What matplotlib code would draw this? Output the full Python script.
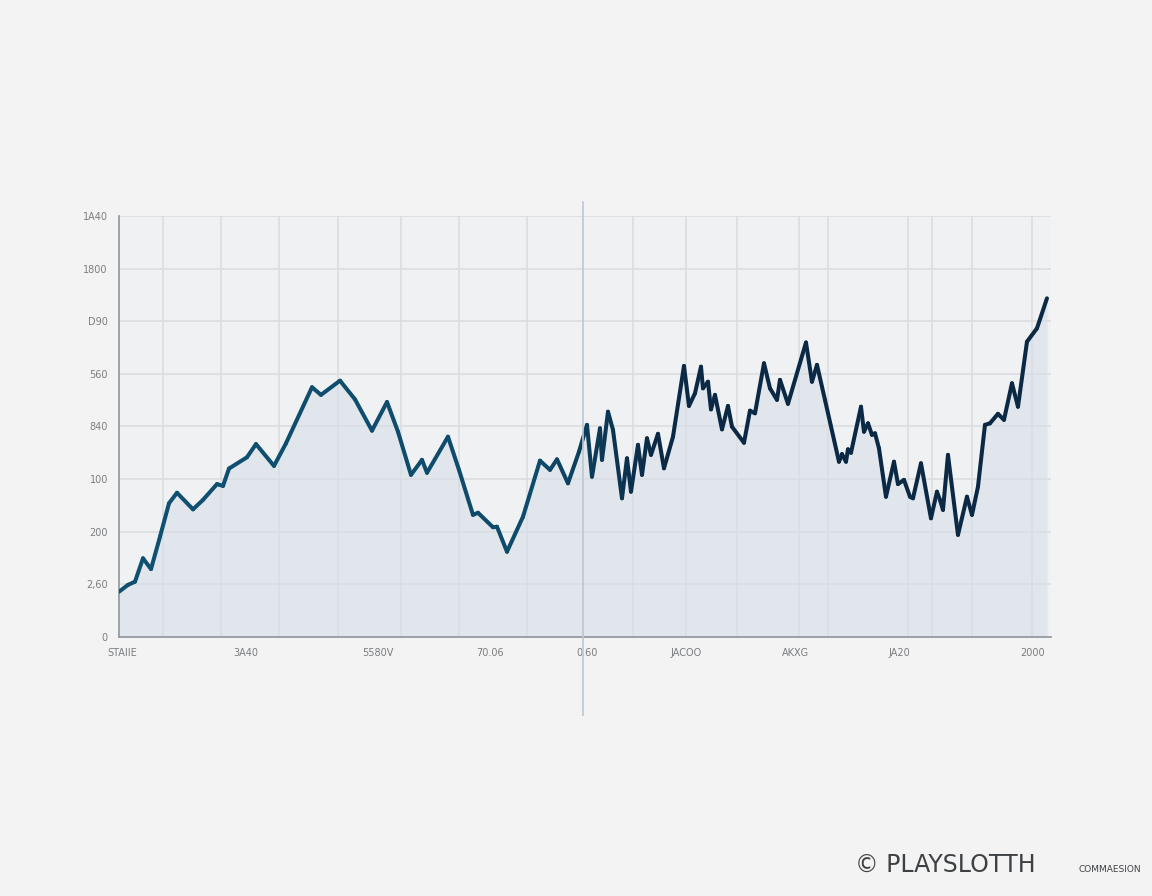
import numpy as np
import matplotlib.pyplot as plt
from matplotlib.collections import LineCollection
from matplotlib.colors import to_rgb

# values (x in days along the axis, y in units)
x_vals = [0, 9, 16, 24, 32, 41, 50, 58, 74, 84, 98, 104, 110, 128, 137, 155, 167,
          193, 202, 221, 236, 253, 268, 279, 292, 303, 308, 329, 340, 354, 359,
          374, 378, 388, 404, 421, 431, 438, 449, 460,
          468, 473, 481, 483, 489, 494, 503, 508, 512, 519, 523, 528, 532, 539,
          545, 554, 565, 570, 576, 582, 584, 589, 592, 596, 603, 609, 613, 625,
          631, 636, 645, 651, 658, 661, 669, 687, 693, 698, 706,
          720, 723, 727, 729, 732, 742, 745, 749, 753, 756, 760, 767, 775, 779,
          785, 791, 794, 802, 812, 818, 821, 824, 829, 839, 848, 853, 859, 866,
          871, 879, 885, 893, 899, 908, 918, 928]
y_vals = [172, 198, 210, 299, 258, 381, 508, 548, 485, 521, 581, 574, 640, 683, 733, 650, 736,
          949, 920, 974, 903, 784, 893, 780, 616, 673, 624, 761, 635, 464, 472,
          417, 419, 324, 457, 670, 635, 675, 584, 704,
          806, 609, 793, 673, 856, 787, 527, 679, 552, 730, 616, 755, 692, 772,
          641, 761, 1030, 878, 926, 1027, 945, 970, 865, 920, 789, 878, 799, 738,
          860, 850, 1040, 945, 901, 977, 886, 1119, 970, 1034, 901,
          666, 695, 666, 713, 700, 875, 780, 812, 768, 774, 717, 533, 666, 581,
          597, 533, 527, 660, 451, 552, 521, 483, 692, 388, 533, 464, 571, 806,
          812, 848, 825, 964, 875, 1122, 1173, 1287]

y_ticks = [0, 200, 400, 600, 800, 1000, 1200, 1400, 1600]
y_labels = ["0", "2,60", "200", "100", "840", "560", "D90", "1800", "1A40"]
x_ticks = [3, 127, 259, 371, 468, 567, 677, 780, 914]
x_labels = ["STAIIE", "3A40", "5580V", "70.06", "0.60", "JACOO", "AKXG", "JA20", "2000"]
v_grid = [44, 102, 160, 219, 282, 340, 408, 514, 567, 618, 680, 709, 789, 813, 853, 913]
divider = 464

fig = plt.figure(figsize=(11.52, 8.96), dpi=100)
fig.patch.set_facecolor('#f3f3f3')
ax = fig.add_axes([0.1033, 0.2891, 0.809, 0.4699])
ax.set_facecolor('#f0f1f2')
ax.set_xlim(0, 932)
ax.set_ylim(0, 1600)

# grid
for yv in y_ticks[1:]:
    ax.axhline(yv, color='#dadcdf', lw=1.1, zorder=1)
for xv in v_grid:
    ax.axvline(xv, color='#dadcdf', lw=1.1, zorder=1)
ax.axvline(divider, ymin=-0.185, ymax=1.033, color='#bcc7d1', lw=1.2,
           clip_on=False, zorder=4)

x = np.array(x_vals, dtype=float)
y = np.array(y_vals, dtype=float)
ax.fill_between(x, y, 0, color='#d6dfe7', alpha=0.6, lw=0, zorder=2)

# line colour goes from steel blue to dark navy
c1 = np.array(to_rgb('#0f5071'))
c2 = np.array(to_rgb('#0b2944'))
pts = np.column_stack([x, y]).reshape(-1, 1, 2)
segs = np.concatenate([pts[:-1], pts[1:]], axis=1)
mid = (x[:-1] + x[1:]) / 2
t = np.interp(mid, [0, 420, 540, 932], [0, 0.15, 1, 1])
cols = [c1 * (1 - a) + c2 * a for a in t]
lc = LineCollection(segs, colors=cols, linewidths=2.9, capstyle='round',
                    joinstyle='round', zorder=3)
ax.add_collection(lc)

for s in ['top', 'right']:
    ax.spines[s].set_visible(False)
for s in ['left', 'bottom']:
    ax.spines[s].set_color('#8f959b')
    ax.spines[s].set_linewidth(1.2)

ax.set_yticks(y_ticks)
ax.set_yticklabels(y_labels)
ax.set_xticks(x_ticks)
ax.set_xticklabels(x_labels)
ax.tick_params(length=0, labelsize=7, colors='#7a7d80', pad=8)

fig.text(0.742, 0.0215, "\u00a9 PLAYSLOTTH", fontsize=17, color='#3e4144',
         ha='left', va='bottom')
fig.text(0.936, 0.0245, "COMMAESION", fontsize=6.5, color='#3e4144',
         ha='left', va='bottom')

fig.savefig('out.png', dpi=100, facecolor=fig.get_facecolor())
